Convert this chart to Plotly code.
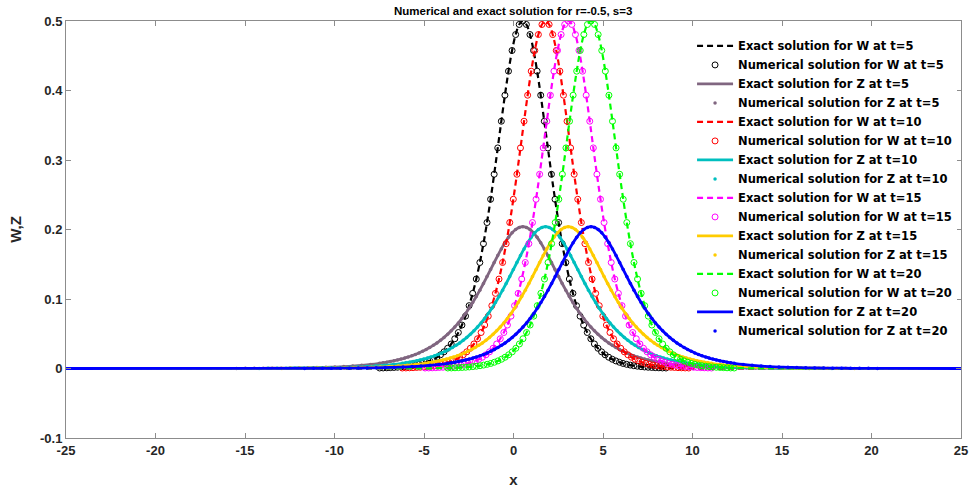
import plotly.graph_objects as go

# Time levels and the crest positions of the travelling waves
TIMES = [5, 10, 15, 20]
CENTERS = [0.52, 1.79, 3.06, 4.33]

# Distance from the crest (one side; the waves are symmetric)
HALF_OFFSETS = [0.0, 0.2, 0.4, 0.6, 0.8, 1.0, 1.2, 1.4, 1.6, 1.8,
                2.0, 2.2, 2.4, 2.6, 2.8, 3.0, 3.2, 3.4, 3.6, 3.8,
                4.0, 4.2, 4.4, 4.6, 4.8, 5.0, 5.2, 5.4, 5.6, 5.8,
                6.0, 6.2, 6.4, 6.6, 6.8, 7.0, 7.2, 7.4, 7.6, 7.8,
                8.0, 8.5, 9.0, 9.5, 10.0, 10.5, 11.0, 11.5, 12.0, 12.5,
                13.0, 13.5, 14.0, 14.5, 15.0, 15.5, 16.0]

# W profile (crest 0.5)
W_HALF = [0.5000, 0.4950, 0.4805, 0.4576, 0.4278, 0.3932, 0.3558, 0.3174, 0.2795, 0.2435,
          0.2100, 0.1796, 0.1525, 0.1287, 0.1081, 0.0904, 0.0753, 0.0625, 0.0518, 0.0428,
          0.0353, 0.0291, 0.0240, 0.0197, 0.0162, 0.0133, 0.0109, 0.0090, 0.0073, 0.0060,
          0.0049, 0.0040, 0.0033, 0.0027, 0.0022, 0.0018, 0.0015, 0.0012, 0.0010, 0.0008,
          0.0007, 0.0004, 0.0002, 0.0001, 0.0001, 0.0, 0.0, 0.0, 0.0, 0.0,
          0.0, 0.0, 0.0, 0.0, 0.0, 0.0, 0.0]

# Z profile (crest about 0.204)
Z_HALF = [0.2040, 0.2030, 0.2000, 0.1952, 0.1887, 0.1809, 0.1721, 0.1625, 0.1525, 0.1424,
          0.1322, 0.1223, 0.1127, 0.1035, 0.0948, 0.0867, 0.0791, 0.0721, 0.0656, 0.0597,
          0.0542, 0.0492, 0.0447, 0.0405, 0.0367, 0.0333, 0.0301, 0.0273, 0.0247, 0.0224,
          0.0203, 0.0183, 0.0166, 0.0150, 0.0136, 0.0123, 0.0111, 0.0101, 0.0091, 0.0083,
          0.0075, 0.0058, 0.0045, 0.0035, 0.0027, 0.0021, 0.0017, 0.0013, 0.0010, 0.0008,
          0.0006, 0.0005, 0.0004, 0.0003, 0.0002, 0.0002, 0.0001]

W_COLORS = ["#000000", "#ff0000", "#ff00ff", "#00ff00"]
Z_COLORS = ["#806680", "#00bfbf", "#ffcc00", "#0000ff"]

X_RANGE = [-25, 25]
Y_RANGE = [-0.1, 0.5]
X_TICKS = [-25, -20, -15, -10, -5, 0, 5, 10, 15, 20, 25]
X_TICK_LABELS = ["-25", "-20", "-15", "-10", "-5", "0", "5", "10", "15", "20", "25"]
Y_TICKS = [-0.1, 0, 0.1, 0.2, 0.3, 0.4, 0.5]
Y_TICK_LABELS = ["-0.1", "0", "0.1", "0.2", "0.3", "0.4", "0.5"]

# circles of the numerical W are only drawn where the finely tabulated part lies
W_MARK_REACH = 8.0


def full_profile(half):
    """Mirror a one-sided profile about the crest."""
    return list(reversed(half[1:])) + list(half)


OFFSETS = [-d for d in reversed(HALF_OFFSETS[1:])] + HALF_OFFSETS
W_PROFILE = full_profile(W_HALF)
Z_PROFILE = full_profile(Z_HALF)

FONT = "Liberation Sans, Arial, sans-serif"
LEGEND_FONT = "DejaVu Sans, Liberation Sans, sans-serif"
fig = go.Figure()

for t, c, wc, zc in zip(TIMES, CENTERS, W_COLORS, Z_COLORS):
    xs = [c + d for d in OFFSETS]
    w_pts = [(c + d, w) for d, w in zip(OFFSETS, W_PROFILE) if abs(d) <= W_MARK_REACH]
    # exact W (dashed), extended flat to the domain ends
    fig.add_trace(go.Scatter(
        x=[X_RANGE[0]] + xs + [X_RANGE[1]], y=[0.0] + W_PROFILE + [0.0],
        mode="lines", line=dict(color=wc, width=2.2, dash="6px,4px", shape="spline"),
        name=f"Exact solution for W at t={t}"))
    # numerical W (open circles)
    fig.add_trace(go.Scatter(
        x=[p[0] for p in w_pts], y=[p[1] for p in w_pts], mode="markers",
        marker=dict(symbol="circle-open", size=6, color=wc, line=dict(width=1, color=wc)),
        name=f"Numerical solution for W at t={t}"))
    # exact Z (solid)
    fig.add_trace(go.Scatter(
        x=[X_RANGE[0]] + xs + [X_RANGE[1]], y=[0.0] + Z_PROFILE + [0.0],
        mode="lines", line=dict(color=zc, width=2.8, shape="spline"),
        name=f"Exact solution for Z at t={t}"))
    # numerical Z (dots)
    fig.add_trace(go.Scatter(
        x=xs, y=Z_PROFILE, mode="markers",
        marker=dict(symbol="circle", size=3.5, color=zc),
        name=f"Numerical solution for Z at t={t}"))

axis_common = dict(
    showline=True, linecolor="#8c8c8c", linewidth=1, mirror="ticks",
    ticks="inside", ticklen=5, tickcolor="#8c8c8c", tickwidth=1,
    showgrid=False, zeroline=False, automargin=False,
    tickfont=dict(family=FONT, size=13, color="#262626", weight="bold"),
)

fig.update_layout(
    width=971, height=494,
    margin=dict(l=66, r=10, t=21, b=56),
    paper_bgcolor="white", plot_bgcolor="white",
    title=dict(text="Numerical and exact solution for r=-0.5, s=3",
               font=dict(family=FONT, size=11.5, color="#000000", weight="bold"),
               x=0.5285, xanchor="center", y=0.978, yanchor="middle"),
    xaxis=dict(range=X_RANGE, tickvals=X_TICKS, ticktext=X_TICK_LABELS,
               title=dict(text="x", font=dict(family=FONT, size=15, color="#262626", weight="bold"),
                          standoff=17),
               **axis_common),
    yaxis=dict(range=Y_RANGE, tickvals=Y_TICKS, ticktext=Y_TICK_LABELS,
               title=dict(text="W,Z", font=dict(family=FONT, size=15, color="#262626", weight="bold"),
                          standoff=14),
               **axis_common),
    legend=dict(x=0.6995, y=0.975, xanchor="left", yanchor="top",
                bgcolor="white", borderwidth=0, tracegroupgap=0, itemwidth=36,
                font=dict(family=LEGEND_FONT, size=11.5, color="#000000", weight="bold")),
    showlegend=True,
)

fig.write_html("out.html")
